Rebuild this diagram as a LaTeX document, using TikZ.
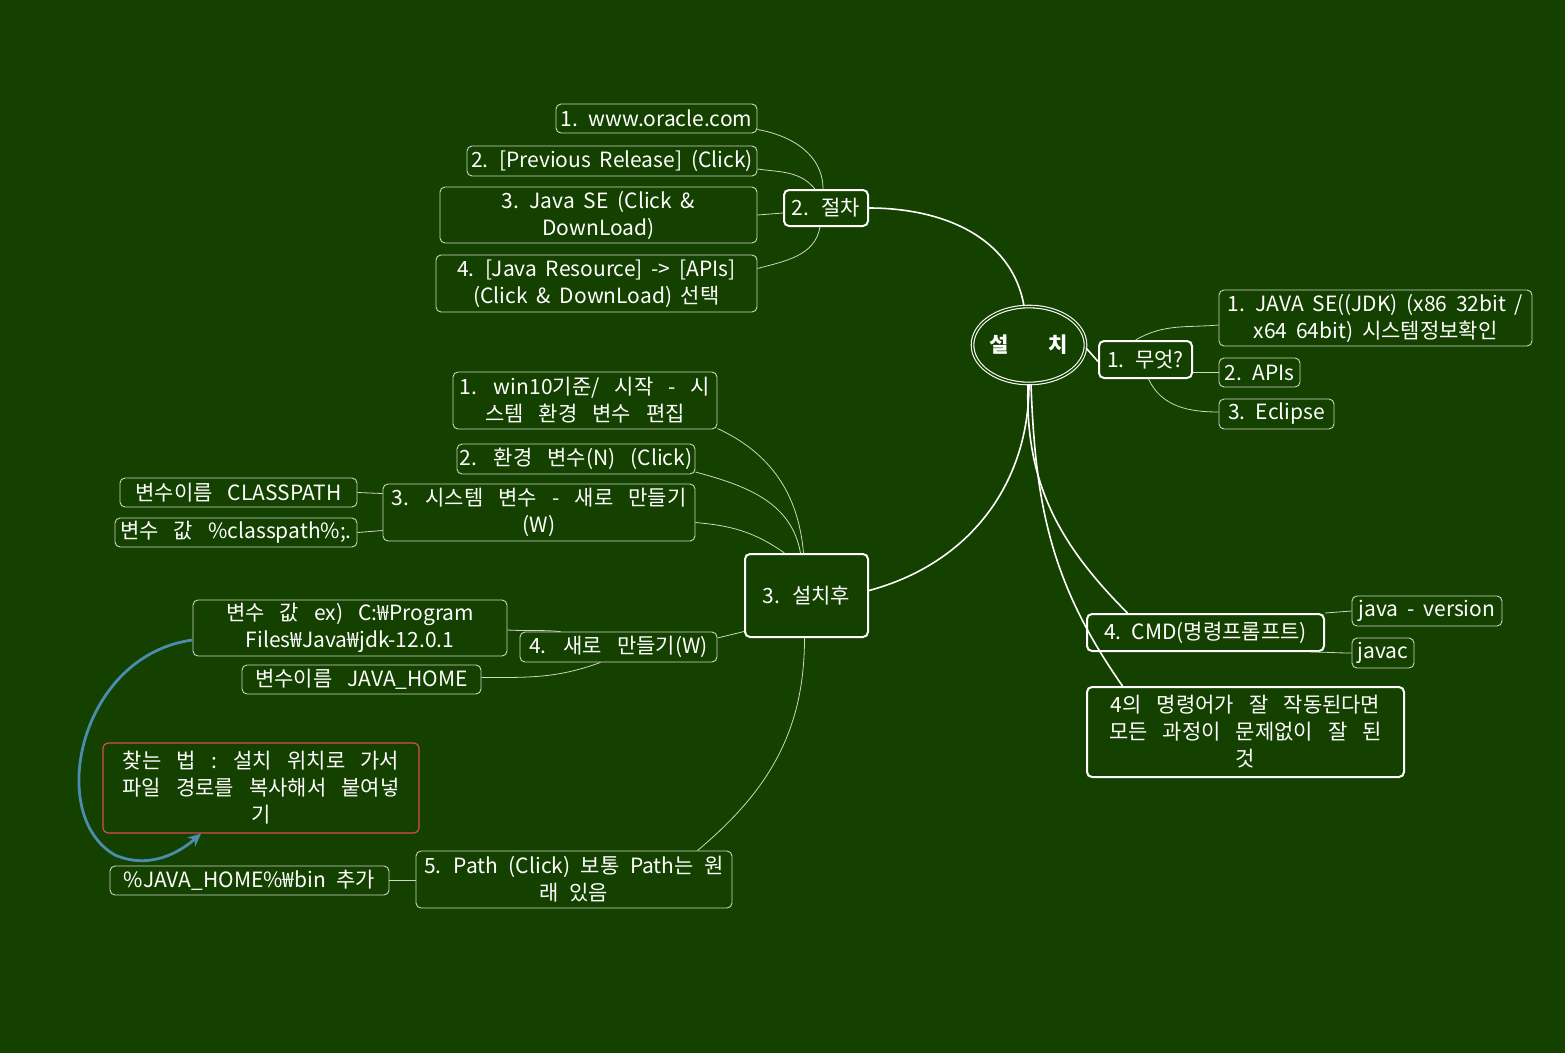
\documentclass[tikz,border=0pt]{standalone}
\usepackage{fontspec}
\setmainfont{Noto Sans CJK KR}
\usetikzlibrary{shapes.geometric,arrows.meta}
\definecolor{bg}{RGB}{20,64,0}
\definecolor{leafline}{RGB}{205,215,195}
\definecolor{redb}{RGB}{215,75,85}
\definecolor{bluea}{RGB}{75,140,175}
\newcommand\latfont{\fontsize{21}{27}\selectfont\spaceskip=0.42em\relax}
\newcommand\korfont{\fontsize{21}{27}\selectfont\spaceskip=0.72em\relax}
\newcommand\midfont{\fontsize{21}{27}\selectfont\spaceskip=0.5em\relax}
\begin{document}
\begin{tikzpicture}[x=1pt,y=1pt,
  every node/.style={font=\korfont, text=white, align=center, inner sep=0pt},
  lat/.style={font=\latfont},
  mid/.style={font=\midfont},
  leaf/.style={draw=leafline, line width=0.9pt, rounded corners=5pt},
  major/.style={draw=white, line width=2pt, rounded corners=5pt},
  redbox/.style={draw=redb, line width=1.2pt, rounded corners=5pt},
  thinc/.style={draw=leafline, line width=0.8pt},
  thickc/.style={draw=white, line width=1.6pt},
]
\fill[bg] (0,0) rectangle (1565,-1053);
\useasboundingbox (0,0) rectangle (1565,-1053);

% root
\node[ellipse, draw=white, double=bg, double distance=1.5pt, line width=1.1pt,
  minimum width=113pt, minimum height=77pt, font=\fontsize{21}{24}\selectfont\bfseries] (root) at (1029,-345) {설\hspace{1.9em}치};

% 2. 절차
\node[major, mid, minimum width=84pt, minimum height=36pt] (jeolcha) at (826,-208) {2. 절차};
\node[leaf, lat, minimum width=201pt, minimum height=29pt] (oracle) at (656.5,-118.5) {1. www.oracle.com};
\node[leaf, lat, minimum width=290pt, minimum height=30pt] (prev) at (612,-161) {2. [Previous Release] (Click)};
\node[leaf, lat, minimum width=317pt, minimum height=56pt] (javase) at (598.5,-215) {3. Java SE (Click \&\\DownLoad)};
\node[leaf, lat, minimum width=321pt, minimum height=57pt] (javares) at (596.5,-283.5) {4. [Java Resource] -> [APIs]\\(Click \& DownLoad) 선택};

% 1. 무엇?
\node[major, lat, minimum width=93pt, minimum height=37pt] (mueot) at (1145.5,-359.5) {1. 무엇?};
\node[leaf, lat, minimum width=313pt, minimum height=56pt] (jdk) at (1375.5,-318) {1. JAVA SE((JDK) (x86 32bit /\\x64 64bit) 시스템정보확인};
\node[leaf, lat, minimum width=81pt, minimum height=29pt] (apis) at (1259.5,-372.5) {2. APIs};
\node[leaf, lat, minimum width=115pt, minimum height=30pt] (eclipse) at (1276.5,-414) {3. Eclipse};

% 3. 설치후
\node[major, mid, minimum width=123pt, minimum height=83pt] (seolchihu) at (806.5,-595.5) {3. 설치후};
\node[leaf, minimum width=264pt, minimum height=57pt] (win10) at (585,-400.5) {1. win10기준/ 시작 - 시\\스템 환경 변수 편집};
\node[leaf, minimum width=238pt, minimum height=30pt] (envvar) at (576,-459) {2. 환경 변수(N) (Click)};
\node[leaf, minimum width=312pt, minimum height=57pt] (sysvar) at (539,-512.5) {3. 시스템 변수 - 새로 만들기\\(W)};
\node[leaf, minimum width=237pt, minimum height=29pt] (classpath) at (238.5,-492.5) {변수이름 CLASSPATH};
\node[leaf, minimum width=242pt, minimum height=29pt] (cpval) at (236,-532.5) {변수 값 \%classpath\%;.};
\node[leaf, minimum width=197pt, minimum height=30pt] (newmake) at (618.5,-647) {4. 새로 만들기(W)};
\node[leaf, minimum width=314pt, minimum height=56pt] (jdkval) at (350,-628) {변수 값 ex) C:₩Program\\Files₩Java₩jdk-12.0.1};
\node[leaf, minimum width=239pt, minimum height=29pt] (javahome) at (361.5,-679.5) {변수이름 JAVA\_HOME};
\node[leaf, mid, minimum width=316pt, minimum height=57pt] (path) at (574,-879.5) {5. Path (Click) 보통 Path는 원\\래 있음};
\node[leaf, mid, minimum width=279pt, minimum height=29pt] (binadd) at (249.5,-880.5) {\%JAVA\_HOME\%₩bin 추가};
\node[redbox, minimum width=316pt, minimum height=90pt] (find) at (261,-788) {찾는 법 : 설치 위치로 가서\\파일 경로를 복사해서 붙여넣\\기};

% 4. CMD
\node[major, lat, minimum width=237pt, minimum height=37pt] (cmd) at (1205.5,-632.5) {4. CMD(명령프롬프트)};
\node[leaf, lat, minimum width=150pt, minimum height=30pt] (javaver) at (1427,-611) {java - version};
\node[leaf, lat, minimum width=62pt, minimum height=30pt] (javac) at (1383,-653) {javac};
\node[major, minimum width=317pt, minimum height=90pt] (result) at (1245.5,-732) {4의 명령어가 잘 작동된다면\\모든 과정이 문제없이 잘 된\\것};

% main connectors
\draw[thickc] ([xshift=-5pt]root.north) to[out=100,in=0] (jeolcha.east);
\draw[thickc] ([yshift=-3pt]root.east) -- ([yshift=-2pt]mueot.west);
\draw[thickc] (root.south) to[out=-90,in=15] ([yshift=5pt]seolchihu.east);
\draw[thickc] ([xshift=-1pt]root.south) to[out=-92,in=135] ([xshift=-78pt]cmd.north);
\draw[thickc] ([xshift=2pt]root.south) to[out=-88,in=125] ([xshift=-123pt]result.north);

% leaf connectors: 절차
\draw[thinc] ([yshift=-11pt]oracle.east) to[out=-10,in=90] ([xshift=-3pt]jeolcha.north);
\draw[thinc] ([yshift=-8pt]prev.east) to[out=-8,in=130] ([xshift=-11pt]jeolcha.north);
\draw[thinc] (javase.east) -- ([yshift=-5pt]jeolcha.west);
\draw[thinc] ([yshift=15pt]javares.east) to[out=15,in=-100] ([xshift=-6pt]jeolcha.south);

% 무엇
\draw[thinc] ([xshift=-10pt]mueot.north) to[out=30,in=185] ([yshift=-7pt]jdk.west);
\draw[thinc] ([yshift=-13pt]mueot.east) -- (apis.west);
\draw[thinc] ([xshift=3pt]mueot.south) to[out=-65,in=180] ([yshift=2pt]eclipse.west);

% 설치후
\draw[thinc] ([yshift=1pt]win10.south east) to[out=-25,in=95] ([xshift=-3pt]seolchihu.north);
\draw[thinc] ([yshift=-13pt]envvar.east) to[out=-15,in=100] ([xshift=-6pt]seolchihu.north);
\draw[thinc] ([yshift=-10pt]sysvar.east) to[out=-5,in=145] ([xshift=-22pt]seolchihu.north);
\draw[thinc] (classpath.east) -- ([yshift=-1pt]sysvar.north west |- classpath.east);
\draw[thinc] (cpval.east) -- ([yshift=2pt]sysvar.south west |- cpval.east);
\draw[thinc] ([yshift=9pt]newmake.east) -- ([yshift=-36pt]seolchihu.west);
\draw[thinc] ([yshift=-2pt]jdkval.east) to[out=-3,in=175] ([xshift=-58pt]newmake.north);
\draw[thinc] ([yshift=2pt]javahome.east) to[out=0,in=-160] ([xshift=-18pt]newmake.south);
\draw[thinc] ([xshift=-35pt]path.north east) to[out=40,in=-90] ([xshift=-2pt]seolchihu.south);
\draw[thinc] (binadd.east) -- (binadd.east -| path.west);

% CMD
\draw[thinc] (cmd.north east) -- (javaver.west);
\draw[thinc] ([xshift=-14pt]cmd.south east) to[out=0,in=180] (javac.west);

% blue arrow
\draw[bluea, line width=2.8pt, -{Stealth[length=13pt,width=12pt]}] ([yshift=-12pt]jdkval.west)
  .. controls (80,-655) and (45,-815) .. (115,-855)
  .. controls (150,-870) and (180,-852) .. ([xshift=-60pt]find.south);
\end{tikzpicture}
\end{document}
